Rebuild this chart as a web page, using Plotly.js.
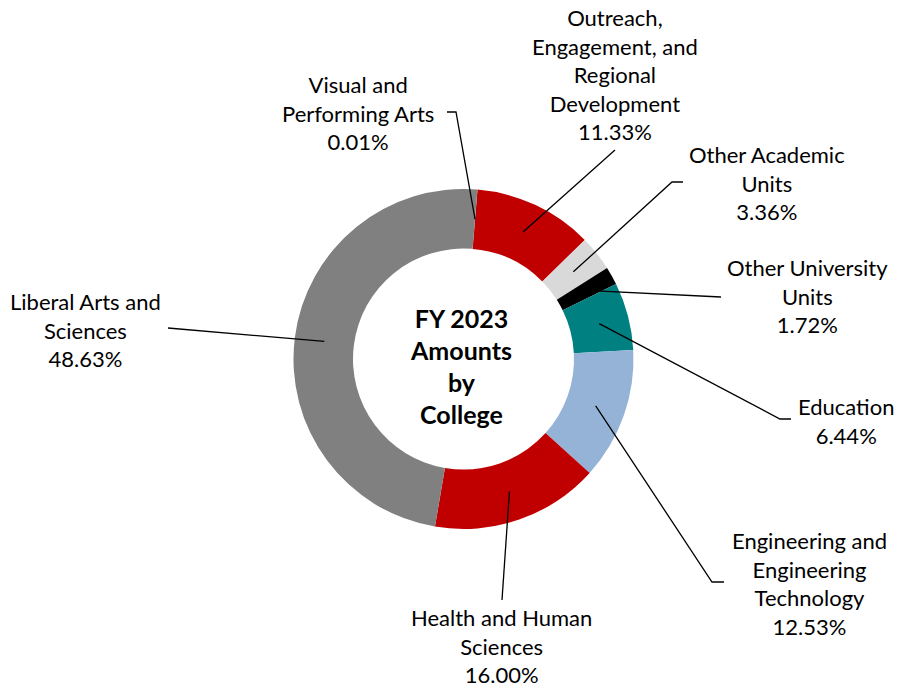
<!DOCTYPE html>
<html>
<head>
<meta charset="utf-8">
<script src="https://cdn.plot.ly/plotly-3.0.1.min.js"></script>
<style>html,body{margin:0;padding:0;background:#fff;}#chart{width:898px;height:688px;}</style>
</head>
<body>
<div id="chart"></div>
<script>
// ---- data ----
const categories = [
  "Visual and Performing Arts",
  "Outreach, Engagement, and Regional Development",
  "Other Academic Units",
  "Other University Units",
  "Education",
  "Engineering and Engineering Technology",
  "Health and Human Sciences",
  "Liberal Arts and Sciences"
];
const percents = [0.01, 11.33, 3.36, 1.72, 6.44, 12.53, 16.00, 48.63];
const labelLines = [
  ["Visual and", "Performing Arts"],
  ["Outreach,", "Engagement, and", "Regional", "Development"],
  ["Other Academic", "Units"],
  ["Other University", "Units"],
  ["Education"],
  ["Engineering and", "Engineering", "Technology"],
  ["Health and Human", "Sciences"],
  ["Liberal Arts and", "Sciences"]
];
const centerTitle = ["FY 2023", "Amounts", "by", "College"];

// ---- style / layout ----
const sliceColors = ["#4F81BD", "#C00000", "#D9D9D9", "#000000", "#008080", "#95B3D7", "#C00000", "#808080"];
const W = 898, H = 688;
const CX = 463.5, CY = 359, R = 170, HOLE = 0.65, ROT = 4.7;
// label block centres (px) and leader-line outer path points (px)
const labelPos = [[358,113],[615,74.5],[767,182.5],[807,296.5],[846,421],[809,583],[502,646],[85,330]];
const leaderPts = [
  [[456,112],[447,112]],
  [[615,150]],
  [[672,182],[683,182]],
  [[721,297]],
  [[780,419],[791,419]],
  [[712,582],[724,582]],
  [[502,600]],
  [[168,328]]
];
const FONT = "Lato, 'Open Sans', sans-serif";
const px2x = p => p / W;
const py2y = p => 1 - p / H;

const total = percents.reduce((a,b)=>a+b,0);
let cum = 0;
const shapes = [];
const annotations = [];
percents.forEach((v,i) => {
  const mid = (ROT + (cum + v/2) / total * 360) * Math.PI / 180;
  cum += v;
  const rr = R * (1 + HOLE) / 2;
  const sx = CX + rr * Math.sin(mid), sy = CY - rr * Math.cos(mid);
  let path = `M ${px2x(sx)} ${py2y(sy)}`;
  leaderPts[i].forEach(p => { path += ` L ${px2x(p[0])} ${py2y(p[1])}`; });
  shapes.push({type:'path', xref:'paper', yref:'paper', path: path, line:{color:'#000', width:1.3}});
  const lines = labelLines[i].concat([v.toFixed(2) + '%']);
  annotations.push({
    xref:'paper', yref:'paper', x: px2x(labelPos[i][0]), y: py2y(labelPos[i][1]),
    xanchor:'center', yanchor:'middle', showarrow:false, align:'center',
    text: lines.join('<br>'),
    font:{family:FONT, size:22, color:'#000'}
  });
});
annotations.push({
  xref:'paper', yref:'paper', x: px2x(461), y: py2y(366),
  xanchor:'center', yanchor:'middle', showarrow:false, align:'center',
  text: centerTitle.map(l => `<b><span style="font-size:25px">${l}</span></b>`).join('<br>'),
  font:{family:FONT, size:24.6, color:'#000'}
});

const trace = {
  type:'pie',
  labels: categories,
  values: percents,
  sort:false,
  direction:'clockwise',
  rotation: ROT,
  hole: HOLE,
  textinfo:'none',
  hoverinfo:'label+percent',
  marker:{colors: sliceColors, line:{width:0}},
  domain:{x:[px2x(CX-R), px2x(CX+R)], y:[py2y(CY+R), py2y(CY-R)]},
  showlegend:false
};

Plotly.newPlot('chart', [trace], {
  width:W, height:H,
  margin:{l:0,r:0,t:0,b:0},
  paper_bgcolor:'#fff',
  showlegend:false,
  shapes: shapes,
  annotations: annotations
}, {displayModeBar:false, staticPlot:true});
</script>
</body>
</html>
